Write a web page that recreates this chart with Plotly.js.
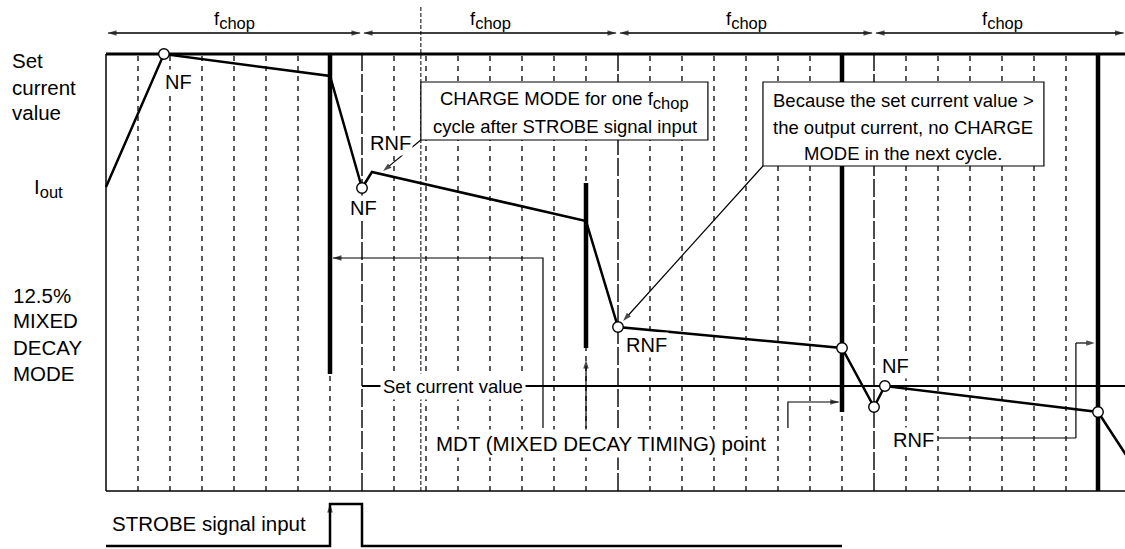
<!DOCTYPE html>
<html><head><meta charset="utf-8">
<script src="https://cdn.plot.ly/plotly-3.0.1.min.js"></script>
<style>html,body{margin:0;padding:0;background:#fff}</style>
</head><body><div id="chart" style="width:1125px;height:549px"></div>
<script>
// Time axis in 1/8 chop sub-periods (8 per fchop cycle); current level in arbitrary units
const cycleBounds = [0, 8, 16, 24, 32];
const subPerCycle = 8;
const ioutT = [0, 1.81, 7, 8, 8.31, 15, 16, 23, 24, 24.34, 31, 32];
const ioutV = [304, 437, 415, 303, 319, 270, 164, 143, 84, 105, 79, 30];
const pointIdx = [1, 3, 6, 7, 8, 9, 10];
const setTop = 437;          // set current level before STROBE (frame top)
const setAfter = 105;        // "Set current value" after STROBE
const setChangeT = 8;
const mdtT = [7, 15, 23, 31];
const mdtTop = [437, 308, 437, 437];
const mdtBottom = [117, 143, 79, 0];
const strobeT = [0, 7, 7, 8, 8, 23];
const strobeV = [-55, -55, -13, -13, -55, -55];
const extraLineT = 9.84;
const SUB = s => '<span style="font-size:16.5px;baseline-shift:-4px">' + s + '</span>';
const fchopLabel = 'f' + SUB('chop');
const ioutLabel = 'I' + SUB('out');
const leftLabels = ['Set', 'current', 'value'];
const modeLabels = ['12.5%', 'MIXED', 'DECAY', 'MODE'];
const box1Lines = ['CHARGE MODE for one f' + SUB('chop'), 'cycle after STROBE signal input'];
const box2Lines = ['Because the set current value >', 'the output current, no CHARGE', 'MODE in the next cycle.'];

const F = 'Liberation Sans, Arial, Helvetica, sans-serif';
const FS = 18.5;
const FL = 20.5;
const FP = 20;
const K = '#000';

function vlines(ts, y0, y1) { const x = [], y = []; ts.forEach(t => { x.push(t, t, null); y.push(y0, y1, null); }); return {x, y}; }

const traces = [];
const subT = [];
for (let c = 0; c < cycleBounds.length - 1; c++) for (let k = 1; k < subPerCycle; k++) subT.push(cycleBounds[c] + k);
let v = vlines(subT, 0, setTop);
traces.push({x: v.x, y: v.y, mode: 'lines', line: {color: K, width: 1.3, dash: '5px,5px'}});
v = vlines(cycleBounds.slice(1, 4), 0, setTop);
traces.push({x: v.x, y: v.y, mode: 'lines', line: {color: K, width: 1.4, dash: '18px,3px'}});
traces.push({x: [extraLineT, extraLineT], y: [0, 484], mode: 'lines', line: {color: K, width: 1, dash: '4px,2px'}});
traces.push({x: [0, 0], y: [0, setTop], mode: 'lines', line: {color: K, width: 1.5}});
traces.push({x: [0, 32], y: [0, 0], mode: 'lines', line: {color: K, width: 1.5}});
traces.push({x: [0, 32], y: [setTop, setTop], mode: 'lines', line: {color: K, width: 3}});
traces.push({x: [setChangeT, 32], y: [setAfter, setAfter], mode: 'lines', line: {color: K, width: 2.2}});
const mx = [], my = [];
mdtT.forEach((t, i) => { mx.push(t, t, null); my.push(mdtTop[i], mdtBottom[i], null); });
traces.push({x: mx, y: my, mode: 'lines', line: {color: K, width: 4.5}});
traces.push({x: strobeT, y: strobeV, mode: 'lines', line: {color: K, width: 2.5}});
traces.push({x: ioutT, y: ioutV, mode: 'lines', line: {color: K, width: 2.5}});

function arrowTrace(xs, ys, sizes) {
  return {x: xs, y: ys, mode: 'lines+markers', line: {color: K, width: 1.2},
    marker: {symbol: 'arrow', size: sizes || xs.map((_, i) => i === xs.length - 1 ? 9 : 0),
             angleref: 'previous', color: K, line: {width: 0}}};
}
[[0.06, 7.94], [8.06, 15.94], [16.06, 23.94], [24.06, 31.8]].forEach(p =>
  traces.push(arrowTrace([p[0], p[1], p[0]], [458, 458, 458], [0, 9, 9])));
traces.push(arrowTrace([9.84, 8.66], [351, 320]));
traces.push(arrowTrace([20.53, 16.16], [325, 170]));
traces.push(arrowTrace([13.656, 13.656, 7.09], [63, 233, 233]));
traces.push(arrowTrace([15, 15], [63, 131]));
traces.push(arrowTrace([21.31, 21.31, 22.9], [63, 89, 89]));
traces.push(arrowTrace([26, 30.31, 30.31, 30.9], [53, 53, 148, 148]));
traces.push(arrowTrace([7, 7], [-40, -13]));

traces.push({x: pointIdx.map(i => ioutT[i]), y: pointIdx.map(i => ioutV[i]), mode: 'markers',
             marker: {symbol: 'circle', size: 10.5, color: '#fff', line: {color: K, width: 1.4}}});
traces.forEach(t => { t.type = 'scatter'; t.hoverinfo = 'skip'; t.showlegend = false; t.cliponaxis = true; });

function note(x, y, text, o, size) {
  return Object.assign({x, y, xref: 'x', yref: 'y', text, showarrow: false,
    font: {family: F, size: size || FS, color: K}}, o || {});
}

const ann = [];
[4, 12, 20, 28].forEach(t => ann.push(note(t, 471, fchopLabel, {}, FS)));
[431, 404, 379].forEach((y, i) => ann.push(note(-3.0, y, leftLabels[i], {xanchor: 'left'}, FL)));
ann.push(note(-2.3, 303, ioutLabel, {xanchor: 'left'}, FL));
[196, 171, 144, 118].forEach((y, i) => ann.push(note(-2.97, y, modeLabels[i], {xanchor: 'left'}, FL)));
const bg = {bgcolor: '#fff', borderpad: 1};
ann.push(note(2.25, 409, 'NF', bg, FP));
ann.push(note(8.875, 348, 'RNF', bg, FP));
ann.push(note(8.06, 283, 'NF', bg, FP));
ann.push(note(16.9, 146, 'RNF', bg, FP));
ann.push(note(24.66, 125, 'NF', bg, FP));
ann.push(note(25.22, 51, 'RNF', bg, FP));
ann.push(note(10.84, 105, 'Set current value', {bgcolor: '#fff', borderpad: 2}));
ann.push(note(10.22, 48, 'MDT (MIXED DECAY TIMING) point', {xanchor: 'left', bgcolor: '#fff', borderpad: 2}, FL));
ann.push(note(0.12, -32, 'STROBE signal input', {xanchor: 'left'}, FL));
[391, 365].forEach((y, i) => ann.push(note(14.33, y, box1Lines[i])));
[391, 364, 338].forEach((y, i) => ann.push(note(24.92, y, box2Lines[i])));

const shapes = [
  {type: 'rect', xref: 'x', yref: 'y', x0: 9.84, x1: 18.81, y0: 351, y1: 409, fillcolor: '#fff', line: {color: K, width: 1.2}, layer: 'above'},
  {type: 'rect', xref: 'x', yref: 'y', x0: 20.53, x1: 29.31, y0: 325, y1: 409, fillcolor: '#fff', line: {color: K, width: 1.2}, layer: 'above'}
];

const layout = {
  width: 1125, height: 549, margin: {l: 0, r: 0, t: 0, b: 0},
  paper_bgcolor: '#fff', plot_bgcolor: '#fff', showlegend: false,
  xaxis: {range: [-3.3125, 31.84375], visible: false, fixedrange: true},
  yaxis: {range: [-58, 491], visible: false, fixedrange: true},
  annotations: ann, shapes: shapes
};
Plotly.newPlot('chart', traces, layout, {staticPlot: true, displayModeBar: false});
</script></body></html>
